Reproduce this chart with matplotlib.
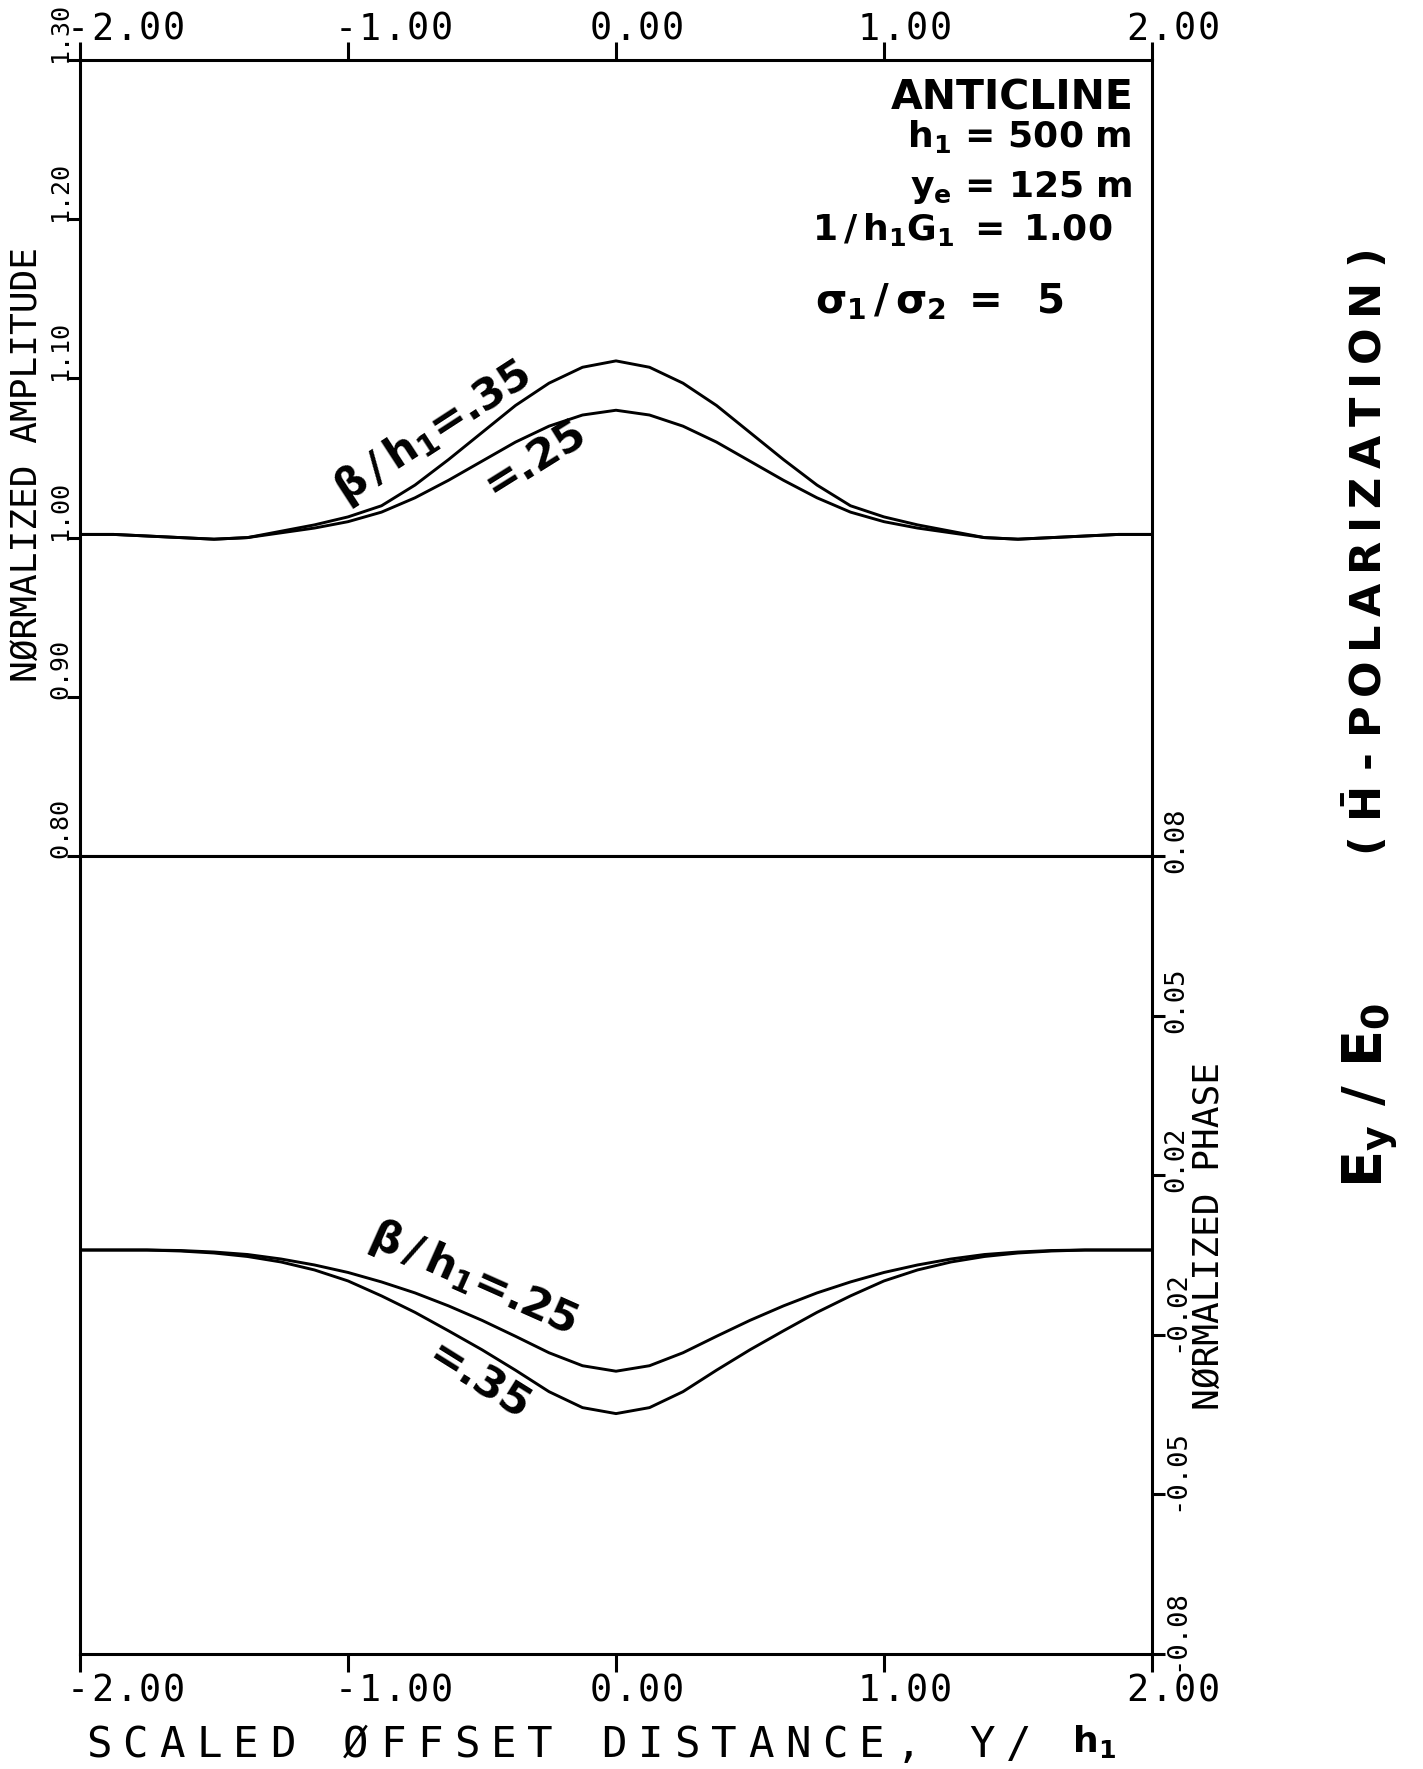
import numpy as np
import matplotlib
matplotlib.use("Agg")
import matplotlib.pyplot as plt
from matplotlib import transforms as mtr

plt.rcParams.update({"mathtext.fontset": "dejavusans", "axes.linewidth": 2.2,
                     "xtick.major.width": 2.2, "ytick.major.width": 2.2})

W, H = 1423, 1769
MONO = "DejaVu Sans Mono"
TS = "\u2009"  # thin space, for the wide lettering on the right

# scaled offset distance Y/h1
y_h = [-2.0, -1.875, -1.75, -1.625, -1.5, -1.375, -1.25, -1.125, -1.0, -0.875,
       -0.75, -0.625, -0.5, -0.375, -0.25, -0.125, 0.0, 0.125, 0.25, 0.375, 0.5,
       0.625, 0.75, 0.875, 1.0, 1.125, 1.25, 1.375, 1.5, 1.625, 1.75, 1.875, 2.0]
# normalized amplitude, beta/h1 = .35 and .25
amp_35 = [1.002, 1.002, 1.001, 1.000, 0.999, 1.000, 1.004, 1.008, 1.013, 1.020,
          1.033, 1.049, 1.066, 1.083, 1.097, 1.107, 1.111, 1.107, 1.097, 1.083,
          1.066, 1.049, 1.033, 1.020, 1.013, 1.008, 1.004, 1.000, 0.999, 1.000,
          1.001, 1.002, 1.002]
amp_25 = [1.002, 1.002, 1.001, 1.000, 0.999, 1.000, 1.003, 1.006, 1.010, 1.016,
          1.025, 1.036, 1.048, 1.060, 1.070, 1.077, 1.080, 1.077, 1.070, 1.060,
          1.048, 1.036, 1.025, 1.016, 1.010, 1.006, 1.003, 1.000, 0.999, 1.000,
          1.001, 1.002, 1.002]
# normalized phase
phase_25 = [0.0010, 0.0010, 0.0010, 0.0009, 0.0006, 0.0001, -0.0008, -0.0020,
            -0.0035, -0.0054, -0.0076, -0.0102, -0.0131, -0.0163, -0.0196,
            -0.0222, -0.0233, -0.0222, -0.0196, -0.0163, -0.0131, -0.0102,
            -0.0076, -0.0054, -0.0035, -0.0020, -0.0008, 0.0001, 0.0006, 0.0009,
            0.0010, 0.0010, 0.0010]
phase_35 = [0.0010, 0.0010, 0.0010, 0.0008, 0.0004, -0.0003, -0.0014, -0.0030,
            -0.0052, -0.0082, -0.0115, -0.0152, -0.0190, -0.0231, -0.0274,
            -0.0306, -0.0318, -0.0306, -0.0274, -0.0231, -0.0190, -0.0152,
            -0.0115, -0.0082, -0.0052, -0.0030, -0.0014, -0.0003, 0.0004, 0.0008,
            0.0010, 0.0010, 0.0010]

x_ticks = [-2.0, -1.0, 0.0, 1.0, 2.0]
amp_ticks = [0.80, 0.90, 1.00, 1.10, 1.20, 1.30]
phase_ticks = [-0.08, -0.048, -0.016, 0.016, 0.048, 0.08]

fig = plt.figure(figsize=(W / 100, H / 100), dpi=100)
x0, x1 = 80 / W, 1152 / W
ytop, ymid, ybot = 1 - 60 / H, 1 - 856 / H, 1 - 1654 / H
ax1 = fig.add_axes([x0, ymid, x1 - x0, ytop - ymid])
ax2 = fig.add_axes([x0, ybot, x1 - x0, ymid - ybot])


def plotter(ax, x, y, s, trans, size, pitch, dx=0, dy=0):
    """Fixed-pitch horizontal lettering, one glyph per cell."""
    for i, ch in enumerate(s):
        if ch == " ":
            continue
        t = mtr.offset_copy(trans, fig=fig, x=dx + (i + 0.5) * pitch, y=dy, units="dots")
        ax.text(x, y, ch, transform=t, fontsize=size, family=MONO,
                ha="center", va="baseline", clip_on=False)


# ---- amplitude panel ----
ax1.plot(y_h, amp_35, color="black", lw=2.1)
ax1.plot(y_h, amp_25, color="black", lw=2.1)
ax1.set_xlim(-2, 2); ax1.set_ylim(0.8, 1.3)
ax1.xaxis.set_ticks_position("top")
ax1.set_xticks(x_ticks); ax1.set_yticks(amp_ticks)
ax1.tick_params(axis="x", direction="out", length=13, labeltop=False, labelbottom=False)
ax1.tick_params(axis="y", direction="out", length=9.5, left=True, right=False,
                labelleft=False)

# ---- phase panel ----
ax2.plot(y_h, phase_25, color="black", lw=2.1)
ax2.plot(y_h, phase_35, color="black", lw=2.1)
ax2.set_xlim(-2, 2); ax2.set_ylim(-0.08, 0.08)
ax2.xaxis.set_ticks_position("bottom")
ax2.yaxis.set_ticks_position("right")
ax2.set_xticks(x_ticks); ax2.set_yticks(phase_ticks)
ax2.tick_params(axis="x", direction="out", length=13, labelbottom=False)
ax2.tick_params(axis="y", direction="out", length=9.5, labelright=False)

# x tick labels, top and bottom
for ax, yref, dy in [(ax1, 1, 20), (ax2, 0, -47)]:
    tr = mtr.blended_transform_factory(ax.transData, ax.transAxes)
    for v in x_ticks:
        s = f"{v:.2f}"
        off = 46 if v < 0 else 21
        plotter(ax, v, yref, s, tr, 26.5, 24, dx=off - len(s) * 12, dy=dy)

# y tick labels, written upward from the tick
tr = mtr.offset_copy(mtr.blended_transform_factory(ax1.transAxes, ax1.transData),
                     fig=fig, x=-13, y=-2, units="dots")
for v in amp_ticks:
    ax1.text(0, v, f"{v:.2f}", transform=tr, rotation=90, rotation_mode="anchor",
             ha="left", va="baseline", family=MONO, fontsize=18, clip_on=False)
tr = mtr.offset_copy(mtr.blended_transform_factory(ax2.transAxes, ax2.transData),
                     fig=fig, x=31, y=-17, units="dots")
for v in phase_ticks:
    ax2.text(1, v, f"{v:.2f}", transform=tr, rotation=90, rotation_mode="anchor",
             ha="left", va="baseline", family=MONO, fontsize=19.5, clip_on=False)

fig.text(27 / W, 1 - 465 / H, "NØRMALIZED AMPLITUDE", rotation=90, ha="center",
         va="center", family=MONO, fontsize=26)
fig.text(1209 / W, 1 - 1236 / H, "NØRMALIZED PHASE", rotation=90, ha="center",
         va="center", family=MONO, fontsize=26)

# x axis title
plotter(fig, 0, 0, "SCALED ØFFSET DISTANCE, Y/", mtr.IdentityTransform(), 30.5, 36.8,
        dx=80, dy=H - 1757)
fig.text(1072 / W, 1 - 1752 / H, r"$\mathbf{h_1}$", ha="left", va="baseline",
         fontsize=26)

# model parameters
bold = dict(ha="right", va="baseline", fontsize=26, fontweight="bold",
            transform=ax1.transAxes)
ax1.text(0.983, 0.9372, "ANTICLINE", **{**bold, "fontsize": 29.5})
ax1.text(0.981, 0.8907, r"$\mathbf{h_1\,=\,500\ m}$", **bold)
ax1.text(0.981, 0.8279, r"$\mathbf{y_e\,=\,125\ m}$", **bold)
ax1.text(0.9627, 0.7739, r"$\mathbf{1\,/\,h_1 G_1\ =\ 1.00}$", **bold)
ax1.text(0.9170, 0.6822, r"$\mathbf{\sigma_1\,/\,\sigma_2\ =\ \ 5}$",
         **{**bold, "fontsize": 29})

# curve labels
lab = dict(ha="left", va="baseline", rotation_mode="anchor", fontsize=31,
           fontweight="bold")
ax1.text(-1.01, 1.0215, r"$\mathbf{\beta\,/\,h_1}$=.35", rotation=33, **lab)
ax1.text(-0.455, 1.0245, "=.25", rotation=32, **lab)
ax2.text(-0.93, 0.0022, r"$\mathbf{\beta\,/\,h_1}$=.25", rotation=-24, **lab)
ax2.text(-0.713, -0.0215, "=.35", rotation=-32, **lab)

# polarization / field component
pol = TS.join("POLARIZATION")
fig.text(1366 / W, 1 - 553 / H, r"( $\mathbf{\bar{H}}$ - " + pol + " )", rotation=90,
         ha="center", va="center", fontsize=31, fontweight="bold")
fig.text(1371 / W, 1 - 1095 / H, r"$\mathbf{E_y}$ / $\mathbf{E_0}$", rotation=90,
         ha="center", va="center", fontsize=39, fontweight="bold")

fig.savefig("out.png", dpi=100)
